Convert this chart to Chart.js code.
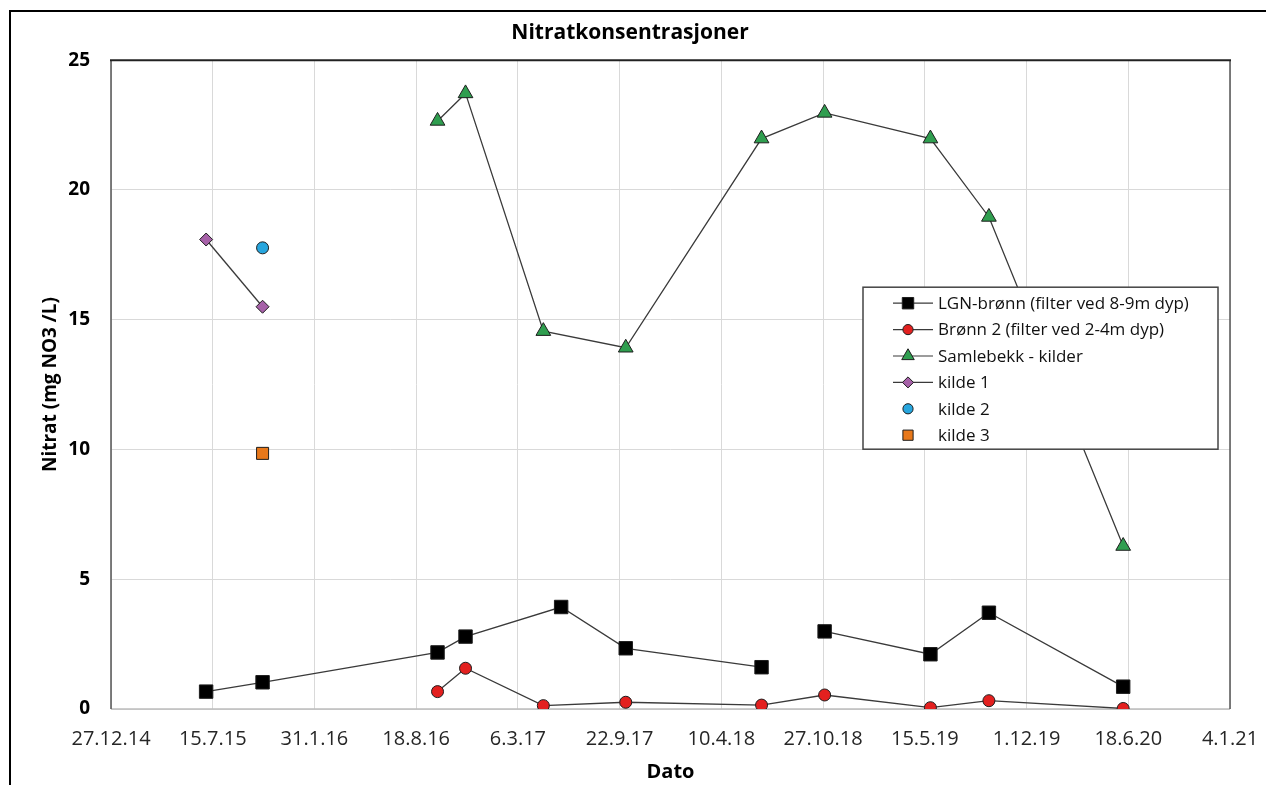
<!DOCTYPE html>
<html>
<head>
<meta charset="utf-8">
<script src="https://cdn.jsdelivr.net/npm/chart.js@4.4.0/dist/chart.umd.min.js"></script>
<style>
html, body { margin: 0; padding: 0; background: #fff; }
#wrap { width: 1266px; height: 785px; }
</style>
</head>
<body>
<div id="wrap"><canvas id="nitratChart" width="1266" height="785"></canvas></div>
<script>

const lgnDates = ['2015-07-02', '2015-10-21', '2016-09-29', '2016-11-23', '2017-05-30', '2017-10-04', '2018-06-28', '2018-08-30', '2018-10-30', '2019-05-26', '2019-09-18', '2020-06-08'];
const lgnValues = [0.67, 1.03, 2.18, 2.79, 3.93, 2.34, 1.61, null, 2.99, 2.11, 3.71, 0.86];

const bronn2Dates = ['2016-09-29', '2016-11-23', '2017-04-25', '2017-10-04', '2018-06-28', '2018-10-30', '2019-05-26', '2019-09-18', '2020-06-08'];
const bronn2Values = [0.67, 1.57, 0.13, 0.26, 0.15, 0.54, 0.05, 0.32, 0.02];

const samlebekkDates = ['2016-09-29', '2016-11-23', '2017-04-25', '2017-10-04', '2018-06-28', '2018-10-30', '2019-05-26', '2019-09-18', '2020-06-08'];
const samlebekkValues = [22.66, 23.72, 14.56, 13.92, 21.98, 22.97, 21.98, 18.96, 6.28];

const kilde1Dates = ['2015-07-02', '2015-10-21'];
const kilde1Values = [18.09, 15.5];
const kilde2Dates = ['2015-10-21'];
const kilde2Values = [17.77];
const kilde3Dates = ['2015-10-21'];
const kilde3Values = [9.85];

const xStart = '2014-12-27';
const xStepDays = 200;
const xSteps = 11;
const yTicks = [0, 5, 10, 15, 20, 25];

const DAY = 86400000;
function toDay(s) {
    const p = s.split('-');
    return Date.UTC(+p[0], +p[1] - 1, +p[2]) / DAY;
}
function fmtDay(d) {
    const dt = new Date(d * DAY);
    return dt.getUTCDate() + '.' + (dt.getUTCMonth() + 1) + '.' + String(dt.getUTCFullYear()).slice(2);
}
function pts(dates, values) {
    return dates.map((d, i) => ({ x: toDay(d), y: values[i] }));
}

const xMin = toDay(xStart);
const xMax = xMin + xStepDays * xSteps;

const lineCol = '#3a3a3a';
const edgeCol = '#1e1e1e';

// outer frame + white background
const frame = {
    id: 'frame',
    beforeDraw(chart) {
        const ctx = chart.ctx;
        ctx.save();
        ctx.fillStyle = '#fff';
        ctx.fillRect(0, 0, chart.width, chart.height);
        ctx.strokeStyle = '#000';
        ctx.lineWidth = 2;
        ctx.beginPath();
        ctx.moveTo(10, chart.height);
        ctx.lineTo(10, 11);
        ctx.lineTo(chart.width, 11);
        ctx.stroke();
        ctx.restore();
    },
    beforeDatasetsDraw(chart) {
        const a = chart.chartArea;
        const ctx = chart.ctx;
        ctx.save();
        ctx.lineWidth = 1.5;
        ctx.strokeStyle = '#bdbdbd';
        ctx.beginPath();
        ctx.moveTo(a.left, a.bottom);
        ctx.lineTo(a.right, a.bottom);
        ctx.stroke();
        ctx.strokeStyle = '#555';
        ctx.beginPath();
        ctx.moveTo(a.left, a.bottom);
        ctx.lineTo(a.left, a.top);
        ctx.moveTo(a.right, a.top);
        ctx.lineTo(a.right, a.bottom);
        ctx.stroke();
        ctx.strokeStyle = '#222';
        ctx.lineWidth = 2;
        ctx.beginPath();
        ctx.moveTo(a.left - 1, a.top);
        ctx.lineTo(a.right + 1, a.top);
        ctx.stroke();
        ctx.restore();
    }
};

// boxed legend inside the plot, like the Excel one
const boxLegend = {
    id: 'boxLegend',
    afterDraw(chart) {
        const ctx = chart.ctx;
        const a = chart.chartArea;
        const x0 = a.left + 752, y0 = a.top + 227, w = 355, h = 162;
        ctx.save();
        ctx.fillStyle = '#fff';
        ctx.fillRect(x0, y0, w, h);
        ctx.strokeStyle = '#444';
        ctx.lineWidth = 1.5;
        ctx.strokeRect(x0, y0, w, h);
        ctx.font = '17px "Open Sans"';
        ctx.textBaseline = 'middle';
        chart.data.datasets.forEach((ds, i) => {
            const y = y0 + 16 + i * 26.4;
            const mx = x0 + 45;
            if (ds.showLine) {
                ctx.strokeStyle = lineCol;
                ctx.lineWidth = 1.2;
                ctx.beginPath();
                ctx.moveTo(x0 + 30, y);
                ctx.lineTo(x0 + 70, y);
                ctx.stroke();
            }
            ctx.fillStyle = ds.pointBackgroundColor;
            ctx.strokeStyle = edgeCol;
            ctx.lineWidth = 1;
            Chart.helpers.drawPoint(ctx, {
                pointStyle: ds.pointStyle,
                radius: ds.pointRadius * 0.85,
                rotation: 0,
                borderWidth: 1
            }, mx, y);
            ctx.fillStyle = '#111';
            ctx.fillText(ds.label, x0 + 75, y + 1);
        });
        ctx.restore();
    }
};

function series(label, data, style, radius, fill, showLine) {
    return {
        label: label,
        data: data,
        showLine: showLine,
        borderColor: lineCol,
        borderWidth: 1.3,
        pointStyle: style,
        pointRadius: radius,
        pointHoverRadius: radius,
        pointBackgroundColor: fill,
        pointBorderColor: edgeCol,
        pointBorderWidth: 1,
        spanGaps: false
    };
}

const ctx = document.getElementById('nitratChart').getContext('2d');
const nitratChart = new Chart(ctx, {
    type: 'scatter',
    data: {
        datasets: [
            series('LGN-brønn (filter ved 8-9m dyp)', pts(lgnDates, lgnValues), 'rect', 9.5, '#000000', true),
            series('Brønn 2 (filter ved 2-4m dyp)', pts(bronn2Dates, bronn2Values), 'circle', 6, '#e3201f', true),
            series('Samlebekk - kilder', pts(samlebekkDates, samlebekkValues), 'triangle', 8.5, '#2f9e4f', true),
            series('kilde 1', pts(kilde1Dates, kilde1Values), 'rectRot', 6.5, '#a661a8', true),
            series('kilde 2', pts(kilde2Dates, kilde2Values), 'circle', 6, '#27a6de', false),
            series('kilde 3', pts(kilde3Dates, kilde3Values), 'rect', 8.5, '#e8781a', false)
        ]
    },
    options: {
        responsive: false,
        animation: false,
        layout: { padding: { left: 30, right: 36, top: 0, bottom: 0 } },
        plugins: {
            legend: { display: false },
            tooltip: { enabled: false },
            title: {
                display: true,
                text: 'Nitratkonsentrasjoner',
                color: '#000',
                font: { family: '"Open Sans"', size: 21, weight: 'bold' },
                padding: { top: 20, bottom: 15 }
            }
        },
        scales: {
            x: {
                type: 'linear',
                min: xMin,
                max: xMax,
                afterFit: s => { s.height = 76; s.paddingLeft = 0; s.paddingRight = 0; },
                grid: { color: '#d9d9d9', drawTicks: false },
                border: { display: false },
                ticks: {
                    stepSize: xStepDays,
                    padding: 18,
                    color: '#262626',
                    font: { family: '"Open Sans"', size: 20 },
                    maxRotation: 0,
                    autoSkip: false,
                    callback: v => fmtDay(v)
                },
                title: {
                    display: true,
                    text: 'Dato',
                    color: '#000',
                    font: { family: '"Open Sans"', size: 20, weight: 'bold' },
                    padding: { top: 0, bottom: 1 }
                }
            },
            y: {
                min: yTicks[0],
                max: yTicks[yTicks.length - 1],
                afterFit: s => { s.width = 81; },
                grid: { color: '#d9d9d9', drawTicks: false },
                border: { display: false },
                ticks: {
                    stepSize: 5,
                    padding: 21,
                    color: '#000',
                    font: { family: '"Open Sans"', size: 19, weight: 'bold' }
                },
                title: {
                    display: true,
                    text: 'Nitrat (mg NO3 /L)',
                    color: '#000',
                    font: { family: '"Open Sans"', size: 19, weight: 'bold' },
                    padding: { top: 9, bottom: 0 }
                }
            }
        }
    },
    plugins: [frame, boxLegend]
});

</script>
</body>
</html>
